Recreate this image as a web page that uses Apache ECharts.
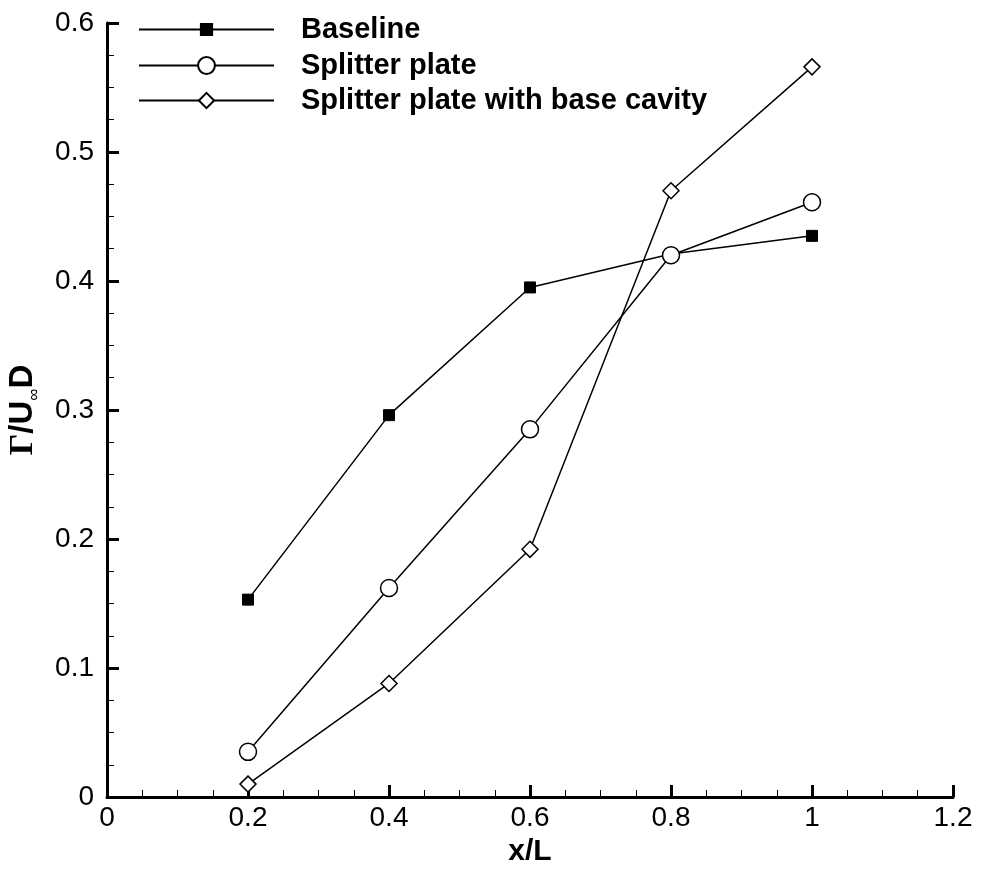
<!DOCTYPE html>
<html>
<head>
<meta charset="utf-8">
<script src="https://cdn.jsdelivr.net/npm/echarts@6/dist/echarts.min.js"></script>
<style>html,body{margin:0;padding:0;background:#fff}#c{width:981px;height:871px}</style>
</head>
<body>
<div id="c"></div>
<script>
var xValues = [0.2, 0.4, 0.6, 0.8, 1.0];
var baseline = [0.153, 0.296, 0.395, 0.421, 0.435];
var splitter = [0.035, 0.162, 0.285, 0.420, 0.461];
var cavity = [0.010, 0.088, 0.192, 0.470, 0.566];
var seriesNames = ['Baseline', 'Splitter plate', 'Splitter plate with base cavity'];

function pairs(ys) { return xValues.map(function (x, i) { return [x, ys[i]]; }); }

var font = 'Liberation Sans, Arial, sans-serif';
var legendText = { fontFamily: font, fontSize: 29, fontWeight: 'bold', color: '#000', lineHeight: 28, padding: [0, 0, 0, 22] };
function legendFor(name, top, h) {
  return { left: 133, top: top, orient: 'vertical', itemWidth: 135, itemHeight: h,
    textStyle: legendText, data: [name] };
}
var chart = echarts.init(document.getElementById('c'));
chart.setOption({
  animation: false,
  backgroundColor: '#fff',
  grid: { left: 107, top: 23, right: 28, bottom: 74, containLabel: false, outerBoundsMode: 'none' },
  legend: [
    legendFor(seriesNames[0], 10, 14),
    legendFor(seriesNames[1], 46, 21),
    legendFor(seriesNames[2], 81, 19)
  ],
  xAxis: {
    type: 'value', min: 0, max: 1.2, interval: 0.2,
    name: 'x/L', nameLocation: 'middle', nameGap: 40,
    nameTextStyle: { fontFamily: font, fontSize: 30, fontWeight: 'bold', color: '#000' },
    axisLine: { show: true, onZero: false, lineStyle: { color: '#000', width: 3 } },
    axisTick: { show: true, inside: true, length: 12, lineStyle: { color: '#000', width: 3 } },
    minorTick: { show: true, splitNumber: 4, length: 7, lineStyle: { color: '#000', width: 1 } },
    axisLabel: { fontFamily: font, fontSize: 28, color: '#000', margin: 7,
      formatter: function (v) { return String(+v.toFixed(2)); } },
    splitLine: { show: false }
  },
  yAxis: {
    type: 'value', min: 0, max: 0.6, interval: 0.1,
    name: '{g|Γ}{a|/U}{s|∞}{a|D}', nameLocation: 'middle', nameGap: 64, nameRotate: 90,
    nameTextStyle: {
      rich: {
        g: { fontFamily: 'Liberation Serif, Times New Roman, serif', fontSize: 34, fontWeight: 'bold', color: '#000', lineHeight: 40, verticalAlign: 'middle' },
        a: { fontFamily: font, fontSize: 33, fontWeight: 'bold', color: '#000', lineHeight: 40, verticalAlign: 'middle' },
        s: { fontFamily: font, fontSize: 17, color: '#000', lineHeight: 40, verticalAlign: 'bottom' }
      }
    },
    axisLine: { show: true, onZero: false, lineStyle: { color: '#000', width: 3 } },
    axisTick: { show: true, inside: true, length: 12, lineStyle: { color: '#000', width: 3 } },
    minorTick: { show: true, splitNumber: 4, length: 7, lineStyle: { color: '#000', width: 1 } },
    axisLabel: { fontFamily: font, fontSize: 28, color: '#000', margin: 13,
      formatter: function (v) { return String(+v.toFixed(2)); } },
    splitLine: { show: false }
  },
  series: [
    { name: seriesNames[0], type: 'line', data: pairs(baseline), symbol: 'rect', symbolSize: 11,
      lineStyle: { color: '#000', width: 1.5 }, itemStyle: { color: '#000', borderColor: '#000', borderWidth: 1 }, z: 2 },
    { name: seriesNames[1], type: 'line', data: pairs(splitter), symbol: 'circle', symbolSize: 17,
      lineStyle: { color: '#000', width: 1.5 }, itemStyle: { color: '#fff', borderColor: '#000', borderWidth: 1.5 }, z: 3 },
    { name: seriesNames[2], type: 'line', data: pairs(cavity), symbol: 'diamond', symbolSize: [16, 16],
      lineStyle: { color: '#000', width: 1.5 }, itemStyle: { color: '#fff', borderColor: '#000', borderWidth: 1.5 }, z: 4 }
  ]
});
</script>
</body>
</html>
